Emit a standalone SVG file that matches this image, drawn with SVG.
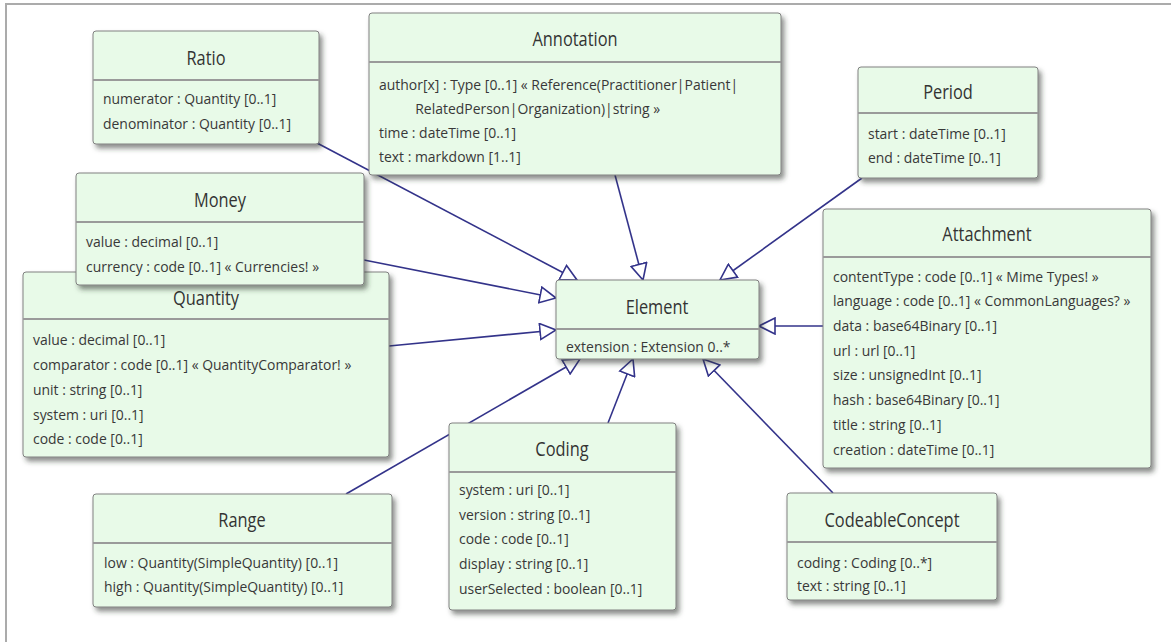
<svg xmlns="http://www.w3.org/2000/svg" width="1171" height="642" viewBox="0 0 1171 642">
<style>
.box{fill:#e8fae8;stroke:#808080;stroke-width:1}
.div{stroke:#9a9a9a;stroke-width:2}
.ttl{font-family:"Open Sans","Liberation Sans",sans-serif;font-weight:400;font-size:20px;fill:#333;text-anchor:middle}
.att{font-family:"Open Sans","Liberation Sans",sans-serif;font-weight:400;font-size:15px;fill:#383838}
.con{stroke:#33338a;stroke-width:1.6;fill:none;marker-end:url(#gen)}
.frame{stroke:#ababab;stroke-width:2;fill:none}
</style>
<defs>
<filter id="sh" x="-10%" y="-10%" width="130%" height="135%">
<feDropShadow dx="3" dy="4" stdDeviation="2.5" flood-color="#303830" flood-opacity="0.55"/>
</filter>
<marker id="gen" viewBox="0 0 18 18" refX="17" refY="9" markerWidth="18" markerHeight="18" markerUnits="userSpaceOnUse" orient="auto">
<path d="M1,1 L17,9 L1,17 Z" fill="#fff" stroke="#33338a" stroke-width="1.6"/>
</marker>
</defs>
<rect width="1171" height="642" fill="#fff"/>
<path class="frame" d="M1171,4 H6 V642"/>
<g id="connectors">
<line class="con" x1="317" y1="143" x2="577" y2="280"/>
<line class="con" x1="615" y1="175" x2="643" y2="280"/>
<line class="con" x1="862" y1="178" x2="720" y2="280"/>
<line class="con" x1="364" y1="260" x2="556" y2="298"/>
<line class="con" x1="389" y1="346" x2="556" y2="330"/>
<line class="con" x1="823" y1="326" x2="759" y2="326"/>
<line class="con" x1="346" y1="494" x2="580" y2="359"/>
<line class="con" x1="608" y1="423" x2="633" y2="359"/>
<line class="con" x1="833" y1="493" x2="703" y2="359"/>
</g>
<g id="Ratio">
<rect class="box" filter="url(#sh)" x="93" y="31" width="226" height="113" rx="3"/>
<line class="div" x1="93" y1="80" x2="319" y2="80"/>
<text class="ttl" transform="translate(206,0) scale(0.82,1)" x="0" y="65">Ratio</text>
<g transform="translate(103,0) scale(0.93,1)">
<text class="att" x="0" y="104">numerator : Quantity [0..1]</text>
<text class="att" x="0" y="129">denominator : Quantity [0..1]</text>
</g>
</g>
<g id="Annotation">
<rect class="box" filter="url(#sh)" x="369" y="13" width="412" height="162" rx="3"/>
<line class="div" x1="369" y1="62" x2="781" y2="62"/>
<text class="ttl" transform="translate(575,0) scale(0.82,1)" x="0" y="46">Annotation</text>
<g transform="translate(379,0) scale(0.93,1)">
<text class="att" x="0" y="90">author[x] : Type [0..1] « Reference(Practitioner|Patient|</text>
<text class="att" x="39" y="114">RelatedPerson|Organization)|string »</text>
<text class="att" x="0" y="138">time : dateTime [0..1]</text>
<text class="att" x="0" y="162">text : markdown [1..1]</text>
</g>
</g>
<g id="Period">
<rect class="box" filter="url(#sh)" x="858" y="67" width="180" height="111" rx="3"/>
<line class="div" x1="858" y1="113" x2="1038" y2="113"/>
<text class="ttl" transform="translate(948,0) scale(0.82,1)" x="0" y="99">Period</text>
<g transform="translate(868,0) scale(0.93,1)">
<text class="att" x="0" y="139">start : dateTime [0..1]</text>
<text class="att" x="0" y="163">end : dateTime [0..1]</text>
</g>
</g>
<g id="Attachment">
<rect class="box" filter="url(#sh)" x="823" y="209" width="328" height="259" rx="3"/>
<line class="div" x1="823" y1="257" x2="1151" y2="257"/>
<text class="ttl" transform="translate(987,0) scale(0.82,1)" x="0" y="241">Attachment</text>
<g transform="translate(833,0) scale(0.93,1)">
<text class="att" x="0" y="282">contentType : code [0..1] « Mime Types! »</text>
<text class="att" x="0" y="306">language : code [0..1] « CommonLanguages? »</text>
<text class="att" x="0" y="331">data : base64Binary [0..1]</text>
<text class="att" x="0" y="356">url : url [0..1]</text>
<text class="att" x="0" y="380">size : unsignedInt [0..1]</text>
<text class="att" x="0" y="405">hash : base64Binary [0..1]</text>
<text class="att" x="0" y="430">title : string [0..1]</text>
<text class="att" x="0" y="455">creation : dateTime [0..1]</text>
</g>
</g>
<g id="Quantity">
<rect class="box" filter="url(#sh)" x="23" y="272" width="366" height="185" rx="3"/>
<line class="div" x1="23" y1="319" x2="389" y2="319"/>
<text class="ttl" transform="translate(206,0) scale(0.82,1)" x="0" y="305">Quantity</text>
<g transform="translate(33,0) scale(0.93,1)">
<text class="att" x="0" y="345">value : decimal [0..1]</text>
<text class="att" x="0" y="370">comparator : code [0..1] « QuantityComparator! »</text>
<text class="att" x="0" y="395">unit : string [0..1]</text>
<text class="att" x="0" y="420">system : uri [0..1]</text>
<text class="att" x="0" y="444">code : code [0..1]</text>
</g>
</g>
<g id="Money">
<rect class="box" filter="url(#sh)" x="76" y="173" width="288" height="112" rx="3"/>
<line class="div" x1="76" y1="222" x2="364" y2="222"/>
<text class="ttl" transform="translate(220,0) scale(0.82,1)" x="0" y="207">Money</text>
<g transform="translate(86,0) scale(0.93,1)">
<text class="att" x="0" y="247">value : decimal [0..1]</text>
<text class="att" x="0" y="272">currency : code [0..1] « Currencies! »</text>
</g>
</g>
<g id="Element">
<rect class="box" filter="url(#sh)" x="556" y="280" width="203" height="79" rx="3"/>
<line class="div" x1="556" y1="329" x2="759" y2="329"/>
<text class="ttl" transform="translate(657,0) scale(0.82,1)" x="0" y="314">Element</text>
<g transform="translate(566,0) scale(0.93,1)">
<text class="att" x="0" y="352">extension : Extension 0..*</text>
</g>
</g>
<g id="Range">
<rect class="box" filter="url(#sh)" x="93" y="494" width="299" height="113" rx="3"/>
<line class="div" x1="93" y1="543" x2="392" y2="543"/>
<text class="ttl" transform="translate(242,0) scale(0.82,1)" x="0" y="527">Range</text>
<g transform="translate(104,0) scale(0.93,1)">
<text class="att" x="0" y="568">low : Quantity(SimpleQuantity) [0..1]</text>
<text class="att" x="0" y="592">high : Quantity(SimpleQuantity) [0..1]</text>
</g>
</g>
<g id="Coding">
<rect class="box" filter="url(#sh)" x="449" y="423" width="227" height="187" rx="3"/>
<line class="div" x1="449" y1="472" x2="676" y2="472"/>
<text class="ttl" transform="translate(562,0) scale(0.82,1)" x="0" y="456">Coding</text>
<g transform="translate(459,0) scale(0.93,1)">
<text class="att" x="0" y="495">system : uri [0..1]</text>
<text class="att" x="0" y="520">version : string [0..1]</text>
<text class="att" x="0" y="544">code : code [0..1]</text>
<text class="att" x="0" y="569">display : string [0..1]</text>
<text class="att" x="0" y="594">userSelected : boolean [0..1]</text>
</g>
</g>
<g id="CodeableConcept">
<rect class="box" filter="url(#sh)" x="787" y="493" width="210" height="107" rx="3"/>
<line class="div" x1="787" y1="542" x2="997" y2="542"/>
<text class="ttl" transform="translate(892,0) scale(0.82,1)" x="0" y="527">CodeableConcept</text>
<g transform="translate(797,0) scale(0.93,1)">
<text class="att" x="0" y="568">coding : Coding [0..*]</text>
<text class="att" x="0" y="591">text : string [0..1]</text>
</g>
</g>
</svg>
